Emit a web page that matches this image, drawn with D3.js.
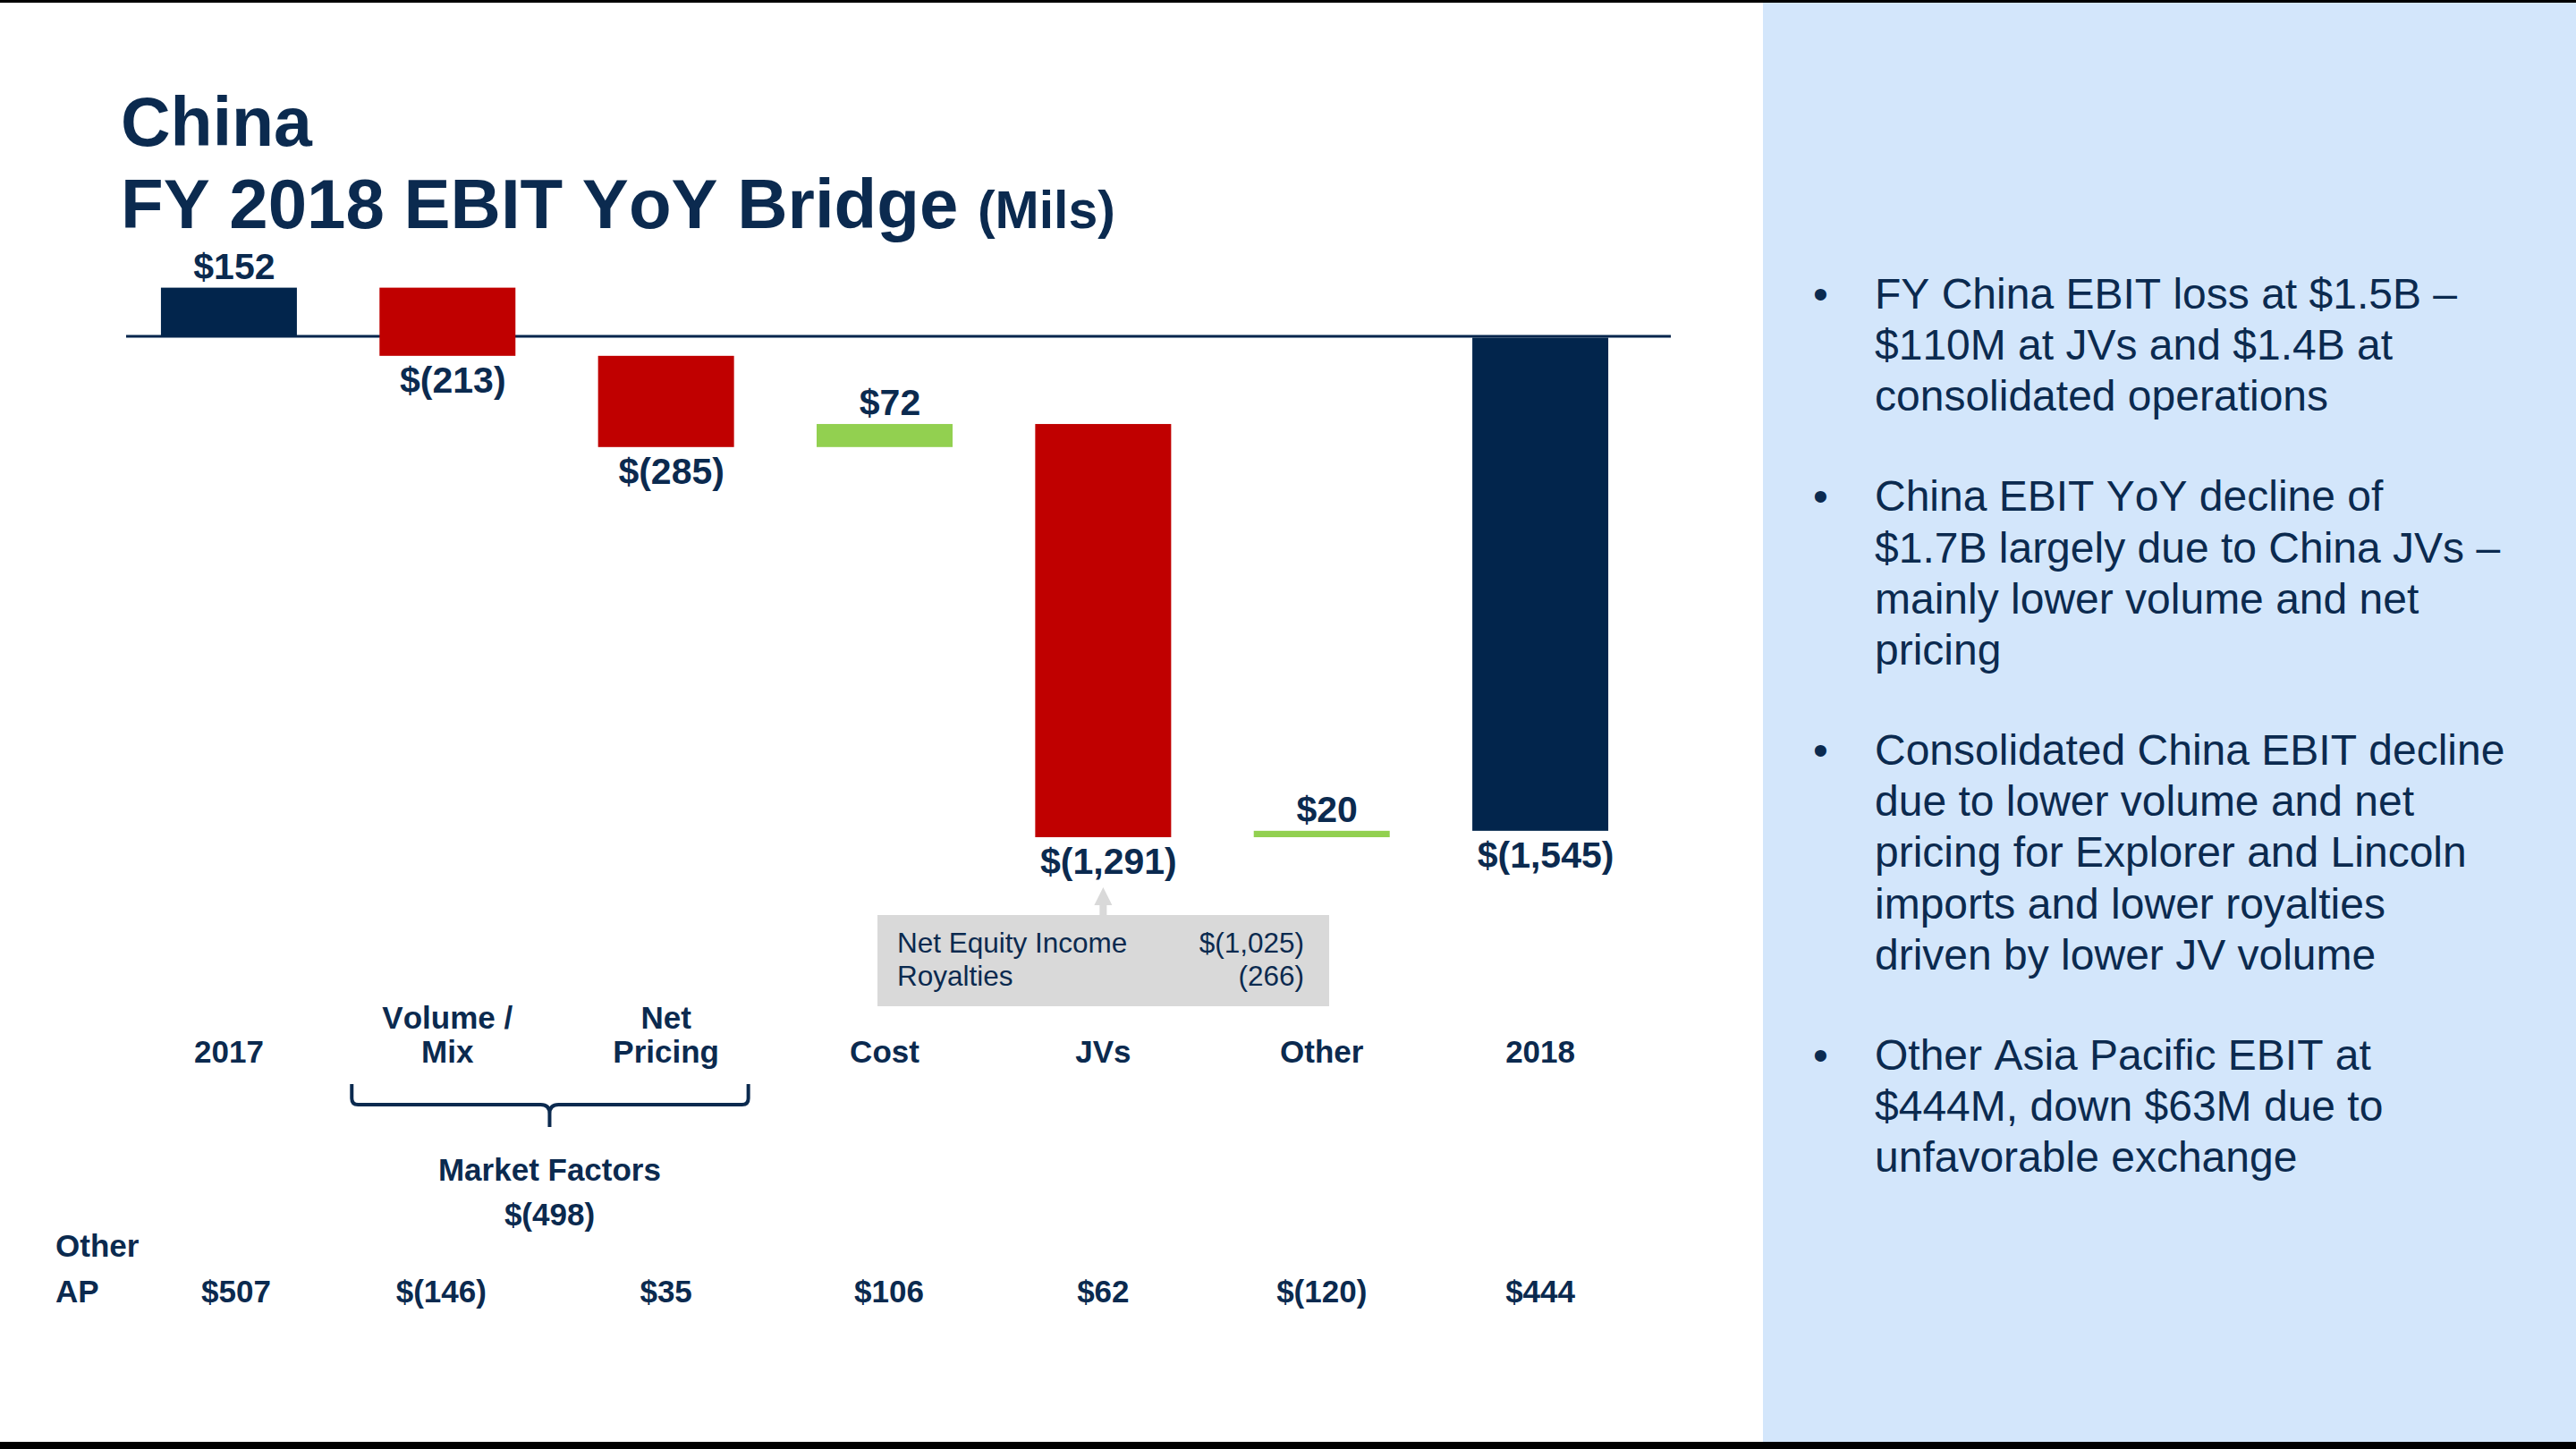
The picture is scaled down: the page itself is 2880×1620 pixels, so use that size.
<!DOCTYPE html>
<html>
<head>
<meta charset="utf-8">
<script src="https://cdn.jsdelivr.net/npm/d3@7/dist/d3.min.js"></script>
<style>
  html, body { margin: 0; padding: 0; background: #ffffff; }
  svg { display: block; font-family: "Liberation Sans", Arial, Helvetica, sans-serif; font-kerning: none; }
</style>
</head>
<body>
<svg id="chart" width="2880" height="1620"></svg>
<script>
// ---------- data ----------
const categories = ["2017", "Volume /|Mix", "Net|Pricing", "Cost", "JVs", "Other", "2018"];
const values = [152, -213, -285, 72, -1291, 20, -1545];
const barTypes = ["total", "down", "down", "up", "down", "up", "total"];
const valueLabels = ["$152", "$(213)", "$(285)", "$72", "$(1,291)", "$20", "$(1,545)"];
const otherAPLabels = ["$507", "$(146)", "$35", "$106", "$62", "$(120)", "$444"];
const marketFactors = { label: "Market Factors", value: "$(498)", from: "Volume /|Mix", to: "Net|Pricing" };
const calloutRows = [["Net Equity Income", "$(1,025)"], ["Royalties", "(266)"]];
const calloutTarget = "JVs";
const bullets = [
  ["FY China EBIT loss at $1.5B –", "$110M at JVs and $1.4B at", "consolidated operations"],
  ["China EBIT YoY decline of", "$1.7B largely due to China JVs –", "mainly lower volume and net", "pricing"],
  ["Consolidated China EBIT decline", "due to lower volume and net", "pricing for Explorer and Lincoln", "imports and lower royalties", "driven by lower JV volume"],
  ["Other Asia Pacific EBIT at", "$444M, down $63M due to", "unfavorable exchange"]
];

// ---------- styles ----------
const NAVY = "#0b2a4f";
const BAR_NAVY = "#02254c";
const RED = "#c00000";
const GREEN = "#92d050";
const GRAY = "#d9d9d9";
const PANEL = "#d3e6fb";

const svg = d3.select("#chart");

// right panel and borders
svg.append("rect").attr("x", 1971).attr("y", 0).attr("width", 909).attr("height", 1620).attr("fill", PANEL);
svg.append("rect").attr("x", 0).attr("y", 0).attr("width", 2880).attr("height", 3).attr("fill", "#000");
svg.append("rect").attr("x", 0).attr("y", 1612).attr("width", 2880).attr("height", 8).attr("fill", "#000");

// title
svg.append("text").attr("x", 135).attr("y", 163).attr("fill", NAVY)
  .attr("font-size", 77).attr("font-weight", "bold").text("China");
const t2 = svg.append("text").attr("x", 135).attr("y", 255).attr("fill", NAVY)
  .attr("font-weight", "bold");
t2.append("tspan").attr("font-size", 78).text("FY 2018 EBIT YoY Bridge ");
t2.append("tspan").attr("font-size", 59).text("(Mils)");

// ---------- waterfall computation ----------
let running = 0;
const bars = categories.map((c, i) => {
  let start, end;
  if (barTypes[i] === "total") { start = 0; end = values[i]; running = values[i]; }
  else { start = running; end = running + values[i]; running = end; }
  return { cat: c, start, end, type: barTypes[i], value: values[i], label: valueLabels[i], ap: otherAPLabels[i] };
});

const x = d3.scaleBand().domain(categories).range([133.75, 1844.25]).paddingInner(0.378).paddingOuter(0.189);
const y = d3.scaleLinear().domain([0, -1565]).range([376, 936]);

// zero line
svg.append("line").attr("x1", 141).attr("x2", 1868).attr("y1", y(0)).attr("y2", y(0))
  .attr("stroke", BAR_NAVY).attr("stroke-width", 3);

const colorOf = d => d.type === "total" ? BAR_NAVY : (d.type === "down" ? RED : GREEN);

svg.append("g").selectAll("rect").data(bars).join("rect")
  .attr("x", d => x(d.cat))
  .attr("width", x.bandwidth())
  .attr("y", d => y(Math.max(d.start, d.end)) + (d.type === "total" && d.end < 0 ? 1.5 : 0))
  .attr("height", d => Math.abs(y(d.start) - y(d.end)) - (d.type === "total" && d.end < 0 ? 1.5 : 0))
  .attr("fill", colorOf);

// value labels
svg.append("g").selectAll("text").data(bars).join("text")
  .attr("x", d => x(d.cat) + x.bandwidth() / 2 + 6)
  .attr("y", d => d.value >= 0 ? y(Math.max(d.start, d.end)) - 10 : y(Math.min(d.start, d.end)) + 41)
  .attr("text-anchor", "middle").attr("fill", NAVY)
  .attr("font-size", 41).attr("font-weight", "bold")
  .text(d => d.label);

// category labels
const catG = svg.append("g");
categories.forEach(c => {
  const lines = c.split("|");
  const cx = x(c) + x.bandwidth() / 2;
  lines.forEach((ln, j) => {
    catG.append("text").attr("x", cx).attr("y", 1188 - (lines.length - 1 - j) * 38)
      .attr("text-anchor", "middle").attr("fill", NAVY)
      .attr("font-size", 35).attr("font-weight", "bold").text(ln);
  });
});

// market factors bracket
const bl = x(marketFactors.from) - 31;
const br = x(marketFactors.to) + x.bandwidth() + 16;
const bc = (x(marketFactors.from) + x.bandwidth() / 2 + x(marketFactors.to) + x.bandwidth() / 2) / 2 - 8;
const bTop = 1212, bMid = 1235, bBot = 1260;
const bp = d3.path();
bp.moveTo(bl, bTop); bp.lineTo(bl, bMid - 7); bp.quadraticCurveTo(bl, bMid, bl + 7, bMid);
bp.lineTo(bc - 10, bMid); bp.quadraticCurveTo(bc, bMid, bc, bMid + 10); bp.lineTo(bc, bBot);
bp.moveTo(br, bTop); bp.lineTo(br, bMid - 7); bp.quadraticCurveTo(br, bMid, br - 7, bMid);
bp.lineTo(bc + 10, bMid); bp.quadraticCurveTo(bc, bMid, bc, bMid + 10);
svg.append("path").attr("d", bp.toString()).attr("fill", "none")
  .attr("stroke", NAVY).attr("stroke-width", 4);
svg.append("text").attr("x", bc).attr("y", 1320).attr("text-anchor", "middle").attr("fill", NAVY)
  .attr("font-size", 35).attr("font-weight", "bold").text(marketFactors.label);
svg.append("text").attr("x", bc).attr("y", 1370).attr("text-anchor", "middle").attr("fill", NAVY)
  .attr("font-size", 35).attr("font-weight", "bold").text(marketFactors.value);

// Other AP row
svg.append("text").attr("x", 62).attr("y", 1405).attr("fill", NAVY)
  .attr("font-size", 35).attr("font-weight", "bold").text("Other");
svg.append("text").attr("x", 62).attr("y", 1456).attr("fill", NAVY)
  .attr("font-size", 35).attr("font-weight", "bold").text("AP");
svg.append("g").selectAll("text").data(bars).join("text")
  .attr("x", (d, i) => x(d.cat) + x.bandwidth() / 2 + (i === 0 ? 8 : (i === 1 ? -7 : (i === 3 ? 5 : 0))))
  .attr("y", 1456).attr("text-anchor", "middle").attr("fill", NAVY)
  .attr("font-size", 35).attr("font-weight", "bold").text(d => d.ap);

// callout box + arrow
const ax = x(calloutTarget) + x.bandwidth() / 2;
svg.append("rect").attr("x", 981).attr("y", 1023).attr("width", 505).attr("height", 102).attr("fill", GRAY);
svg.append("rect").attr("x", ax - 4).attr("y", 1010).attr("width", 8).attr("height", 14).attr("fill", GRAY);
svg.append("path").attr("d", `M${ax - 10},1012 L${ax},992 L${ax + 10},1012 Z`).attr("fill", GRAY);
calloutRows.forEach((r, i) => {
  svg.append("text").attr("x", 1003).attr("y", 1065 + i * 37).attr("fill", NAVY)
    .attr("font-size", 31.5).text(r[0]);
  svg.append("text").attr("x", 1458).attr("y", 1065 + i * 37).attr("fill", NAVY)
    .attr("text-anchor", "end").attr("font-size", 31.5).text(r[1]);
});

// bullets
let by = 345;
const bg = svg.append("g").attr("fill", NAVY).attr("font-size", 48);
bullets.forEach((para, pi) => {
  bg.append("text").attr("x", 2027).attr("y", by).text("•");
  para.forEach((ln, li) => {
    bg.append("text").attr("x", 2096).attr("y", by + li * 57.2).text(ln);
  });
  by += (para.length - 1) * 57.2 + 112;
});
</script>
</body>
</html>
